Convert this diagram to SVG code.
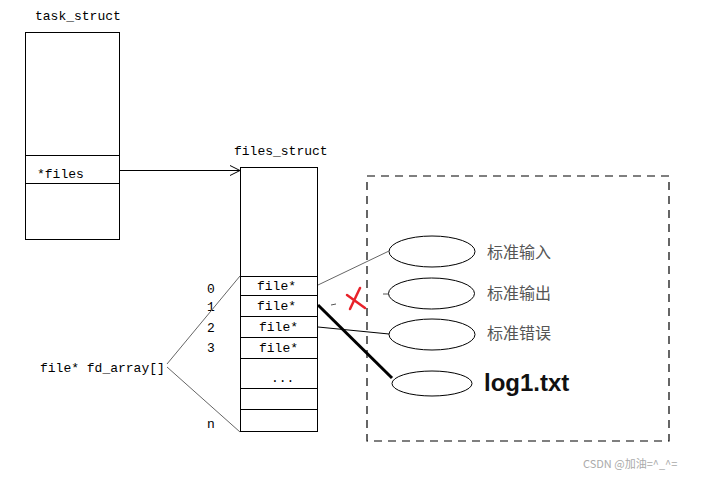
<svg xmlns="http://www.w3.org/2000/svg" width="707" height="478" viewBox="0 0 707 478">
<style>
.mono{font-family:"Liberation Mono","DejaVu Sans Mono",monospace;font-size:13px;fill:#000}
.box{fill:#fff;stroke:#000;stroke-width:1}
.ell{fill:#fff;stroke:#000;stroke-width:1}
.cn{font-family:"Noto Sans CJK SC",sans-serif;font-size:16px;fill:#555}
.gl{stroke:#666;stroke-width:1;fill:none}
</style>
<defs>
<marker id="oa" markerWidth="12" markerHeight="12" refX="10" refY="6" orient="auto" markerUnits="userSpaceOnUse">
<path d="M0,1 L10,6 L0,11" fill="none" stroke="#000" stroke-width="1"/>
</marker>
</defs>
<rect width="707" height="478" fill="#fff"/>
<g id="task_struct">
<text class="mono" x="35" y="20">task_struct</text>
<rect class="box" x="25.5" y="32.5" width="94" height="207"/>
<line x1="25.5" y1="155.5" x2="119.5" y2="155.5" stroke="#000"/>
<line x1="25.5" y1="183.5" x2="119.5" y2="183.5" stroke="#000"/>
<text class="mono" x="37" y="178">*files</text>
</g>
<g id="files_struct">
<text class="mono" x="234" y="155">files_struct</text>
<rect class="box" x="240.5" y="167.5" width="77" height="264"/>
<g stroke="#000" stroke-width="1">
<line x1="240.5" y1="276.5" x2="317.5" y2="276.5"/>
<line x1="240.5" y1="295.5" x2="317.5" y2="295.5"/>
<line x1="240.5" y1="316.5" x2="317.5" y2="316.5"/>
<line x1="240.5" y1="337.5" x2="317.5" y2="337.5"/>
<line x1="240.5" y1="358.5" x2="317.5" y2="358.5"/>
<line x1="240.5" y1="388.5" x2="317.5" y2="388.5"/>
<line x1="240.5" y1="409.5" x2="317.5" y2="409.5"/>
</g>
<text class="mono" x="257" y="290">file*</text>
<text class="mono" x="257" y="310">file*</text>
<text class="mono" x="259" y="331">file*</text>
<text class="mono" x="259" y="352">file*</text>
<text class="mono" x="271" y="382">...</text>
<text class="mono" x="207" y="293">0</text>
<text class="mono" x="207" y="311">1</text>
<text class="mono" x="207" y="332">2</text>
<text class="mono" x="207" y="352">3</text>
<text class="mono" x="207" y="428">n</text>
</g>
<g id="fd_array">
<text class="mono" x="40" y="372">file* fd_array[]</text>
</g>
<g id="files_group">
<rect x="367" y="176" width="302" height="265" fill="none" stroke="#000" stroke-width="1.2" stroke-dasharray="8,6"/>
</g>
<g id="stdin">
<ellipse class="ell" cx="432" cy="251.5" rx="43" ry="15.5" stroke="#555"/>
<text class="cn" x="487" y="258">标准输入</text>
</g>
<g id="stdout">
<ellipse class="ell" cx="431.5" cy="293.5" rx="43" ry="15.5" stroke="#555"/>
<text class="cn" x="487" y="299">标准输出</text>
</g>
<g id="stderr">
<ellipse class="ell" cx="432" cy="334.5" rx="43" ry="15.5"/>
<text class="cn" x="487" y="339">标准错误</text>
</g>
<g id="log1">
<ellipse class="ell" cx="432" cy="383.5" rx="40" ry="12.5"/>
<text x="484" y="391" font-family="'Liberation Sans',Arial,sans-serif" font-size="24" font-weight="bold" fill="#111">log1.txt</text>
</g>
<g id="connectors">
<line x1="120" y1="170.5" x2="240" y2="170.5" stroke="#000" stroke-width="1" marker-end="url(#oa)"/>
<line class="gl" x1="167" y1="364" x2="240" y2="276"/>
<line class="gl" x1="167" y1="367" x2="240" y2="432"/>
<line class="gl" x1="318" y1="285" x2="389" y2="251"/>
<line x1="318" y1="327" x2="389" y2="334" stroke="#000" stroke-width="1"/>
<line x1="318" y1="305" x2="392" y2="378" stroke="#000" stroke-width="3"/>
<line x1="331" y1="305" x2="336" y2="304" stroke="#555" stroke-width="1"/>
<line x1="383" y1="294" x2="388" y2="294" stroke="#555" stroke-width="1"/>
<g stroke="#e8222a" stroke-width="2.5" stroke-linecap="round">
<line x1="347" y1="295" x2="365" y2="308"/>
<line x1="360" y1="288" x2="350" y2="309"/>
</g>
</g>
<text x="583" y="468" font-family="'Noto Sans CJK SC',sans-serif" font-size="11" fill="#aaa">CSDN @加油=^_^=</text>
</svg>
